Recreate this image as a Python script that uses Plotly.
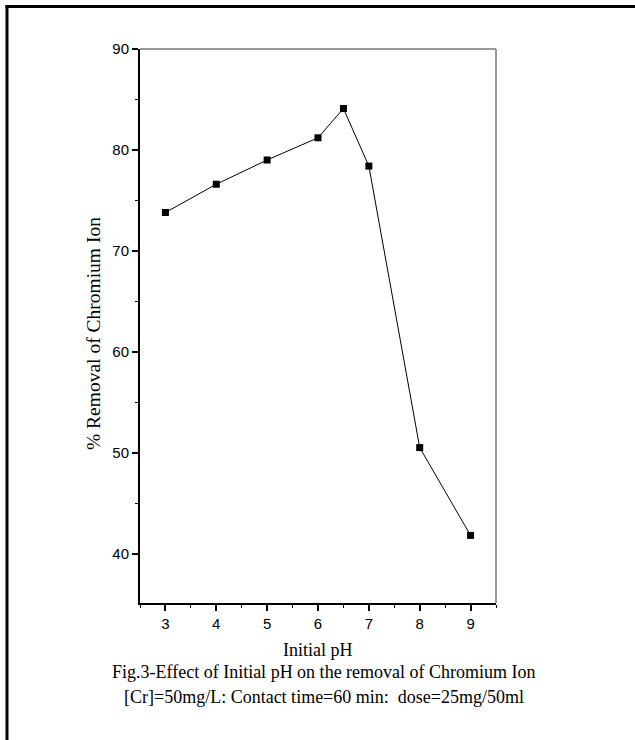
import plotly.graph_objects as go

ph = [3, 4, 5, 6, 6.5, 7, 8, 9]
removal = [73.8, 76.6, 79.0, 81.2, 84.1, 78.4, 50.5, 41.8]
x_ticks = [3, 4, 5, 6, 7, 8, 9]
y_ticks = [40, 50, 60, 70, 80, 90]

W, H = 635, 740
L, R, T, B = 140, 496, 49, 603
pw, ph_ = R - L, B - T

def px(xp):
    return (xp - L) / pw

def py(yp):
    return (B - yp) / ph_

fig = go.Figure()
fig.add_trace(go.Scatter(
    x=ph, y=removal, mode="lines+markers",
    line=dict(color="black", width=1),
    marker=dict(symbol="square", size=7, color="black"),
    showlegend=False,
))

serif = "Liberation Serif, Times New Roman, serif"
sans = "Liberation Sans, Arial, sans-serif"

fig.update_layout(
    width=W, height=H,
    margin=dict(l=L, r=W - R, t=T, b=H - B),
    paper_bgcolor="white", plot_bgcolor="white",
    xaxis=dict(
        range=[2.5, 9.5], tickvals=x_ticks, ticks="outside", ticklen=6, tickwidth=1.5,
        tickcolor="black", showline=True, linecolor="black", linewidth=2,
        showgrid=False, zeroline=False,
        tickfont=dict(family=sans, size=15, color="black"),
        minor=dict(dtick=0.5, tick0=2.5, ticks="outside", ticklen=3, tickcolor="black", tickwidth=1),
    ),
    yaxis=dict(
        range=[35.1, 90], tickvals=y_ticks, ticks="outside", ticklen=6, tickwidth=1.5,
        tickcolor="black", showline=True, linecolor="black", linewidth=2,
        showgrid=False, zeroline=False,
        tickfont=dict(family=sans, size=15, color="black"),
        minor=dict(dtick=5, tick0=35, ticks="outside", ticklen=3, tickcolor="black", tickwidth=1),
    ),
)

# top and right mirror lines (gray, thinner)
fig.add_shape(type="line", xref="x domain", yref="y domain", x0=0, x1=1, y0=1, y1=1,
              line=dict(color="#777777", width=1.5))
fig.add_shape(type="line", xref="x domain", yref="y domain", x0=1, x1=1, y0=0, y1=1,
              line=dict(color="#777777", width=1.5))

# outer frame (left and top)
fig.add_shape(type="line", xref="paper", yref="paper", x0=px(7), x1=px(7), y0=py(5), y1=py(745),
              line=dict(color="black", width=3))
fig.add_shape(type="line", xref="paper", yref="paper", x0=px(5.5), x1=px(640), y0=py(6.5), y1=py(6.5),
              line=dict(color="black", width=3))

# axis titles
fig.add_annotation(text="Initial pH", xref="paper", yref="paper", x=px(318), y=py(650),
                   showarrow=False, xanchor="center", yanchor="middle",
                   font=dict(family=serif, size=18, color="black"))
fig.add_annotation(text="% Removal of Chromium Ion", xref="paper", yref="paper", x=px(93), y=py(334),
                   showarrow=False, xanchor="center", yanchor="middle", textangle=-90,
                   font=dict(family=serif, size=19.5, color="black"))

# caption
fig.add_annotation(text="Fig.3-Effect of Initial pH on the removal of Chromium Ion",
                   xref="paper", yref="paper", x=px(324), y=py(672), showarrow=False,
                   xanchor="center", yanchor="middle",
                   font=dict(family=serif, size=18, color="black"))
fig.add_annotation(text="[Cr]=50mg/L: Contact time=60 min:  dose=25mg/50ml",
                   xref="paper", yref="paper", x=px(324), y=py(697), showarrow=False,
                   xanchor="center", yanchor="middle",
                   font=dict(family=serif, size=18, color="black"))

fig.write_html("out.html", config={"displayModeBar": False},
               post_script="document.body.style.margin='0';")
